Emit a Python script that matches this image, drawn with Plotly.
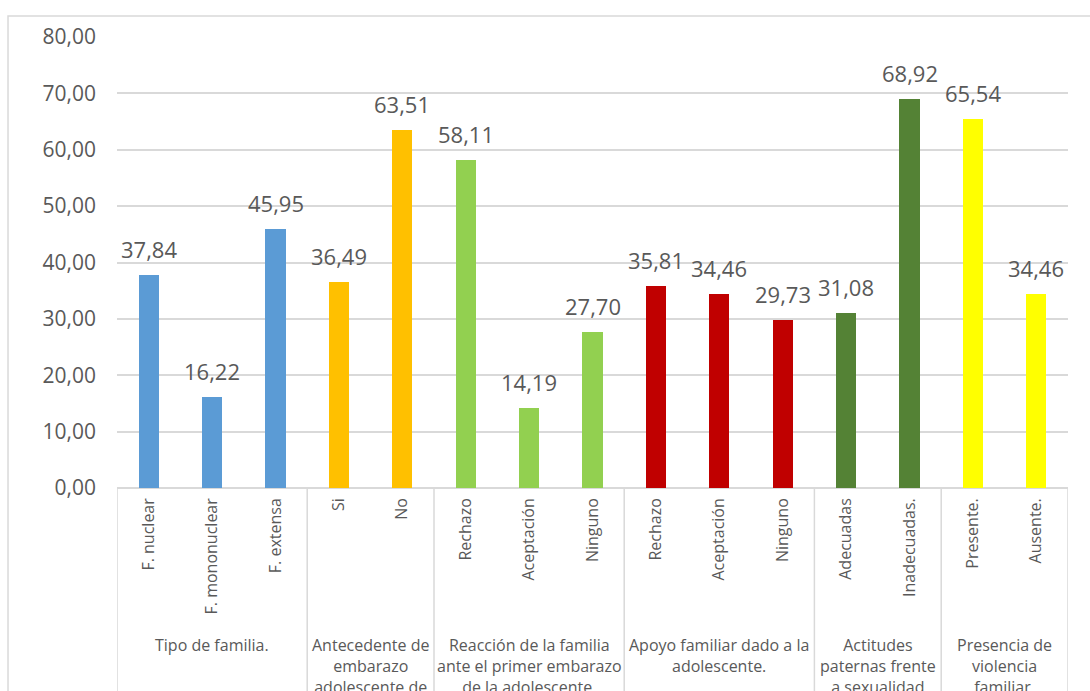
import plotly.graph_objects as go

# Survey results (%) grouped by family factor
groups = [
    "Tipo de familia.",
    "Antecedente de<br>embarazo<br>adolescente de",
    "Reacción de la familia<br>ante el primer embarazo<br>de la adolescente.",
    "Apoyo familiar dado a la<br>adolescente.",
    "Actitudes<br>paternas frente<br>a sexualidad",
    "Presencia de<br>violencia<br>familiar.",
]
categories = [
    ["F. nuclear", "F. mononuclear", "F. extensa"],
    ["Si", "No"],
    ["Rechazo", "Aceptación", "Ninguno"],
    ["Rechazo", "Aceptación", "Ninguno"],
    ["Adecuadas", "Inadecuadas."],
    ["Presente.", "Ausente."],
]
values = [
    [37.84, 16.22, 45.95],
    [36.49, 63.51],
    [58.11, 14.19, 27.70],
    [35.81, 34.46, 29.73],
    [31.08, 68.92],
    [65.54, 34.46],
]
colors = ["#5B9BD5", "#FFC000", "#92D050", "#C00000", "#548235", "#FFFF00"]

FONT = "Open Sans"
TXT = "#595959"
GRID = "#D9D9D9"

fig = go.Figure()
shapes = []
annotations = []
tickvals, ticktext = [], []

pos = 0
bounds = [-0.5]
for g, cats, vals, col in zip(groups, categories, values, colors):
    xs = list(range(pos, pos + len(cats)))
    fig.add_trace(go.Bar(
        x=xs, y=vals, width=0.32, marker=dict(color=col, line=dict(width=0)),
        showlegend=False, hoverinfo="skip",
    ))
    for x, v in zip(xs, vals):
        annotations.append(dict(
            x=x, y=v, xref="x", yref="y", text=f"{v:.2f}".replace(".", ","),
            showarrow=False, yanchor="bottom", yshift=9,
            font=dict(family=FONT, size=22, color=TXT),
        ))
    tickvals += xs
    ticktext += cats
    center = (xs[0] + xs[-1]) / 2
    annotations.append(dict(
        x=center, y=0, xref="x", yref="paper", text=g, showarrow=False,
        yanchor="top", yshift=-144, align="center",
        font=dict(family=FONT, size=16, color=TXT),
    ))
    pos += len(cats)
    bounds.append(pos - 0.5)

# group separators below the axis
for b in bounds:
    shapes.append(dict(type="line", xref="x", yref="paper", x0=b, x1=b,
                       y0=0, y1=-0.6, line=dict(color=GRID, width=1.5), layer="below"))

# outer chart frame
shapes.append(dict(type="rect", xref="paper", yref="paper",
                   x0=-0.1146, x1=1.03, y0=-0.6, y1=1.0466,
                   line=dict(color=GRID, width=1.5), layer="below"))

fig.update_layout(
    width=1090, height=691,
    margin=dict(l=117, r=22, t=37, b=203),
    paper_bgcolor="white", plot_bgcolor="white",
    separators=",.",
    bargap=0,
    shapes=shapes, annotations=annotations,
    font=dict(family=FONT, color=TXT),
)
fig.update_yaxes(
    range=[0, 80], dtick=10, tickformat=".2f",
    showgrid=True, gridcolor=GRID, gridwidth=1.5,
    zeroline=True, zerolinecolor=GRID, zerolinewidth=1.5,
    showline=False, ticks="", ticklabelstandoff=20,
    tickfont=dict(family=FONT, size=21, color=TXT),
)
fig.update_xaxes(
    range=[-0.5, pos - 0.5], tickvals=tickvals, ticktext=ticktext,
    tickangle=-90, showgrid=False, zeroline=False, showline=False,
    ticks="", ticklabelstandoff=6,
    tickfont=dict(family=FONT, size=16, color=TXT),
)

fig.write_html("out.html")
